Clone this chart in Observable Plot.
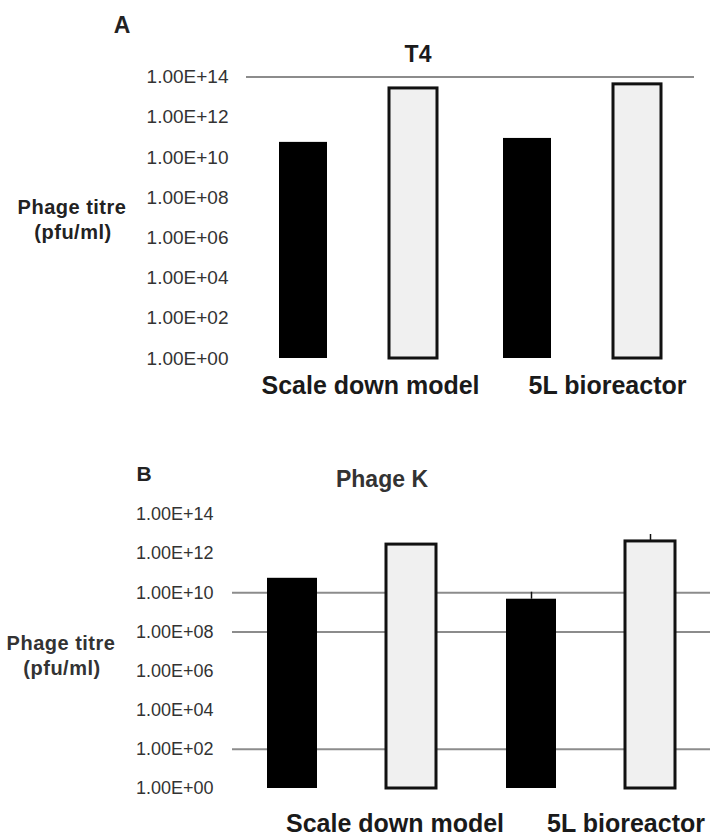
<!DOCTYPE html>
<html>
<head>
<meta charset="utf-8">
<script src="https://cdn.jsdelivr.net/npm/d3@7"></script>
<script src="https://cdn.jsdelivr.net/npm/@observablehq/plot@0.6"></script>
<style>
  html, body { margin: 0; padding: 0; background: #fff; }
  #root { position: relative; width: 710px; height: 837px; overflow: hidden; font-family: "Liberation Sans", Arial, sans-serif; color: #111; }
  .panel { position: absolute; left: 0; }
  .lbl { position: absolute; transform: translate(-50%, -50%); white-space: nowrap; line-height: 1; }
</style>
</head>
<body>
<div id="root"></div>
<script>
// ---------- data ----------
const groups = ["Scale down model", "5L bioreactor"];
const series = ["Control", "Treated"];           // dark bar, light bar
const panelLetters = ["A", "B"];
const panelTitles = ["T4", "Phage K"];
const yTitleLines = ["Phage titre", "(pfu/ml)"];

// values in order: group1-dark, group1-light, group2-dark, group2-light
const t4Values = [5.6e10, 2.7e13, 8.8e10, 4.3e13];
const phageKValues = [5.5e10, 2.9e12, 4.7e9, 4.2e12];
const phageKErrorUpper = [null, null, 1.07e10, 9.5e12];
const t4ErrorUpper = [null, null, null, null];

const yTickValues = [1e0, 1e2, 1e4, 1e6, 1e8, 1e10, 1e12, 1e14];
const yTickLabels = ["1.00E+00", "1.00E+02", "1.00E+04", "1.00E+06", "1.00E+08", "1.00E+10", "1.00E+12", "1.00E+14"];

const gridA = [1e14];
const gridB = [1e10, 1e8, 1e2];

function makeRows(values, errs) {
  return groups.flatMap((g, gi) => series.map((s, si) => ({
    group: g, series: s, value: values[gi * 2 + si], err: errs[gi * 2 + si]
  })));
}

function panel(rows, grid, cfg) {
  const chart = Plot.plot({
    width: 710,
    height: cfg.height,
    marginTop: cfg.marginTop,
    marginBottom: cfg.marginBottom,
    marginLeft: cfg.marginLeft,
    marginRight: cfg.marginRight,
    style: { fontFamily: "'Liberation Sans', Arial, sans-serif", fontSize: cfg.tickFont + "px", color: "#222", background: "transparent" },
    facet: { data: rows, x: "group" },
    fx: { domain: groups, padding: 0, axis: "bottom", tickSize: 0, tickPadding: cfg.fxPad, label: null },
    x: { domain: series, paddingInner: cfg.pi, paddingOuter: cfg.po, axis: null },
    y: {
      type: "log", domain: [1, 1e14], ticks: yTickValues,
      tickFormat: d => yTickLabels[yTickValues.indexOf(d)],
      tickSize: 0, tickPadding: cfg.yPad, label: null
    },
    marks: [
      Plot.ruleY(grid, { stroke: "#8c8c8c", strokeWidth: 2 }),
      Plot.barY(rows, { filter: d => d.series === series[0], x: "series", y1: 1, y2: "value", fill: "#000" }),
      Plot.barY(rows, { filter: d => d.series === series[1], x: "series", y1: 1, y2: "value", fill: "#f0f0f0", stroke: "#111", strokeWidth: 3 }),
      Plot.ruleX(rows, { filter: d => d.err != null, x: "series", y1: "value", y2: "err", stroke: "#111", strokeWidth: 1.5 })
    ]
  });
  // style the facet (group) labels
  chart.querySelectorAll('[aria-label^="fx-axis"] text').forEach((t, i) => {
    t.setAttribute("font-weight", "bold");
    t.setAttribute("font-size", "25");
    t.setAttribute("fill", "#1a1a1a");
    t.setAttribute("dx", cfg.fxDx[i % cfg.fxDx.length]);
  });
  chart.querySelectorAll('[aria-label^="y-axis"] text').forEach(t => {
    t.setAttribute("fill", "#333");
  });
  return chart;
}

const root = document.getElementById("root");

function addLabel(text, x, y, style) {
  const d = document.createElement("div");
  d.className = "lbl";
  d.textContent = text;
  d.style.left = x + "px";
  d.style.top = y + "px";
  Object.assign(d.style, style);
  root.appendChild(d);
}

// ---------- Panel A ----------
const divA = document.createElement("div");
divA.className = "panel"; divA.style.top = "0px";
divA.appendChild(panel(makeRows(t4Values, t4ErrorUpper), gridA, {
  height: 400, marginTop: 76.5, marginBottom: 42, marginLeft: 246, marginRight: 16,
  pi: 0.564, po: 0.3, fxPad: 18, yPad: 18, fxDx: [12, 25], tickFont: 19
}));
root.appendChild(divA);

// ---------- Panel B ----------
const divB = document.createElement("div");
divB.className = "panel"; divB.style.top = "420px";
divB.appendChild(panel(makeRows(phageKValues, phageKErrorUpper), gridB, {
  height: 417, marginTop: 94, marginBottom: 49, marginLeft: 232, marginRight: 0,
  pi: 0.577, po: 0.289, fxPad: 26, yPad: 19, fxDx: [43, 35], tickFont: 18
}));
root.appendChild(divB);

// ---------- text labels ----------
addLabel(panelLetters[0], 122, 25, { fontSize: "23px", fontWeight: "bold", color: "#222" });
addLabel(panelTitles[0], 418, 54, { fontSize: "23px", fontWeight: "bold", color: "#1a1a1a" });
addLabel(yTitleLines[0], 72, 207, { fontSize: "20px", fontWeight: "bold", letterSpacing: "0.5px", color: "#222" });
addLabel(yTitleLines[1], 73, 232, { fontSize: "20px", fontWeight: "bold", letterSpacing: "0.5px", color: "#222" });

addLabel(panelLetters[1], 144, 473, { fontSize: "21px", fontWeight: "bold", color: "#222" });
addLabel(panelTitles[1], 382, 479, { fontSize: "23px", fontWeight: "bold", color: "#333" });
addLabel(yTitleLines[0], 61, 643, { fontSize: "20px", fontWeight: "bold", letterSpacing: "0.5px", color: "#333" });
addLabel(yTitleLines[1], 62, 668, { fontSize: "20px", fontWeight: "bold", letterSpacing: "0.5px", color: "#333" });
</script>
</body>
</html>
